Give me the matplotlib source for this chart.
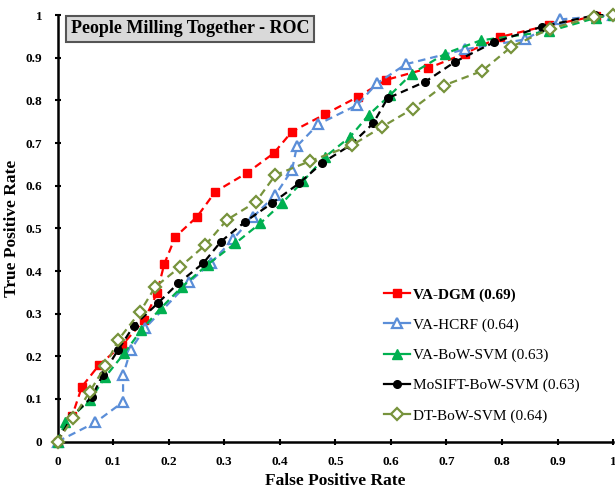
import matplotlib
matplotlib.use("Agg")
import matplotlib.pyplot as plt
from matplotlib.ticker import FuncFormatter

# ROC curves: false positive rate vs true positive rate per method
dgm_fpr = [0, 0.026, 0.044, 0.075, 0.116, 0.156, 0.179, 0.192, 0.212, 0.251, 0.284,
           0.341, 0.389, 0.422, 0.482, 0.540, 0.591, 0.666, 0.733, 0.797, 0.884, 0.97]
dgm_tpr = [0, 0.059, 0.129, 0.180, 0.226, 0.285, 0.348, 0.416, 0.480, 0.527, 0.586,
           0.630, 0.676, 0.727, 0.768, 0.808, 0.848, 0.875, 0.910, 0.949, 0.976, 0.998]

hcrf_fpr = [0, 0.068, 0.118, 0.118, 0.132, 0.158, 0.237, 0.277, 0.316, 0.352, 0.392,
            0.422, 0.431, 0.469, 0.539, 0.575, 0.627, 0.734, 0.842, 0.905, 1.0]
hcrf_tpr = [0, 0.045, 0.093, 0.156, 0.216, 0.267, 0.374, 0.420, 0.475, 0.527, 0.578,
            0.637, 0.693, 0.744, 0.789, 0.840, 0.885, 0.920, 0.943, 0.990, 1.0]

bow_fpr = [0, 0.014, 0.059, 0.086, 0.120, 0.151, 0.186, 0.224, 0.270, 0.320, 0.365,
           0.404, 0.442, 0.482, 0.527, 0.560, 0.598, 0.638, 0.698, 0.762, 0.884, 0.970, 1.0]
bow_tpr = [0, 0.045, 0.098, 0.152, 0.207, 0.262, 0.313, 0.363, 0.415, 0.465, 0.512,
           0.559, 0.611, 0.668, 0.715, 0.766, 0.812, 0.863, 0.910, 0.941, 0.962, 0.994, 1.0]

mosift_fpr = [0, 0.026, 0.062, 0.081, 0.109, 0.137, 0.180, 0.217, 0.262, 0.294, 0.338,
              0.386, 0.435, 0.476, 0.527, 0.568, 0.594, 0.662, 0.716, 0.785, 0.872, 0.968, 1.0]
mosift_tpr = [0, 0.059, 0.105, 0.156, 0.215, 0.271, 0.324, 0.371, 0.418, 0.469, 0.516,
              0.559, 0.606, 0.653, 0.695, 0.746, 0.805, 0.844, 0.891, 0.936, 0.973, 1.0, 1.0]

dt_fpr = [0, 0.028, 0.058, 0.086, 0.109, 0.149, 0.176, 0.221, 0.266, 0.305, 0.357,
          0.392, 0.455, 0.530, 0.584, 0.640, 0.695, 0.764, 0.817, 0.886, 0.966, 1.0]
dt_tpr = [0, 0.055, 0.117, 0.177, 0.238, 0.305, 0.363, 0.410, 0.461, 0.520, 0.562,
          0.625, 0.658, 0.695, 0.738, 0.781, 0.835, 0.869, 0.926, 0.968, 0.996, 1.0]

labels = ["VA-DGM (0.69)", "VA-HCRF (0.64)", "VA-BoW-SVM (0.63)",
          "MoSIFT-BoW-SVM (0.63)", "DT-BoW-SVM (0.64)"]
ticks = [0, 0.1, 0.2, 0.3, 0.4, 0.5, 0.6, 0.7, 0.8, 0.9, 1.0]

serif = ["Liberation Serif", "DejaVu Serif"]
plt.rcParams["font.family"] = serif

fig = plt.figure(figsize=(6.15, 4.88), dpi=100)
ax = fig.add_axes([0.0935, 0.095, 0.9035, 0.874])

dash = (0, (3.4, 2.2))
common = dict(linestyle=dash, linewidth=1.6, clip_on=False, zorder=3)

ax.plot(dgm_fpr, dgm_tpr, color="#ff0000", marker="s", markersize=6,
        markerfacecolor="#ff0000", markeredgecolor="#ff0000", label=labels[0], **common)
ax.plot(hcrf_fpr, hcrf_tpr, color="#5b8ed8", marker="^", markersize=7.5,
        markerfacecolor="white", markeredgecolor="#5b8ed8", markeredgewidth=1.6,
        label=labels[1], **common)
ax.plot(bow_fpr, bow_tpr, color="#00b050", marker="^", markersize=7,
        markerfacecolor="#00b050", markeredgecolor="#00b050", label=labels[2], **common)
ax.plot(mosift_fpr, mosift_tpr, color="black", marker="o", markersize=5.5,
        markerfacecolor="black", markeredgecolor="black", label=labels[3], **common)
ax.plot(dt_fpr, dt_tpr, color="#77933c", marker="D", markersize=6,
        markerfacecolor="white", markeredgecolor="#77933c", markeredgewidth=1.6,
        label=labels[4], **common)

ax.set_xlim(0, 1)
ax.set_ylim(0, 1)
ax.set_xticks(ticks)
ax.set_yticks(ticks)
fmt = FuncFormatter(lambda v, p: "%g" % round(v, 1))
ax.xaxis.set_major_formatter(fmt)
ax.yaxis.set_major_formatter(fmt)

for side in ("top", "right"):
    ax.spines[side].set_visible(False)
for side in ("left", "bottom"):
    ax.spines[side].set_linewidth(1.8)

ax.tick_params(axis="both", direction="inout", length=4, width=1.5, labelsize=9.5)
for lab in ax.get_xticklabels() + ax.get_yticklabels():
    lab.set_fontweight("bold")
ax.tick_params(axis="x", pad=8)
ax.tick_params(axis="y", pad=9)

ax.set_xlabel("False Positive Rate", fontsize=12.5, fontweight="bold", labelpad=4)
ax.set_ylabel("True Positive Rate", fontsize=12.5, fontweight="bold", labelpad=4)

ax.text(0.024, 0.988, "People Milling Together - ROC", transform=ax.transAxes,
        ha="left", va="top", fontsize=13, fontweight="bold", zorder=5,
        bbox=dict(boxstyle="square,pad=0.25", facecolor="#d9d9d9",
                  edgecolor="#555555", linewidth=1.5))

leg = fig.legend(loc="center left", bbox_to_anchor=(0.625, 0.272), frameon=False,
                 fontsize=11, numpoints=1, handlelength=1.7, handletextpad=0.2,
                 labelspacing=1.07, borderpad=0, borderaxespad=0)
for h in leg.legend_handles:
    h.set_linestyle("-")
leg.get_texts()[0].set_fontweight("bold")

fig.savefig("out.png", dpi=100)
